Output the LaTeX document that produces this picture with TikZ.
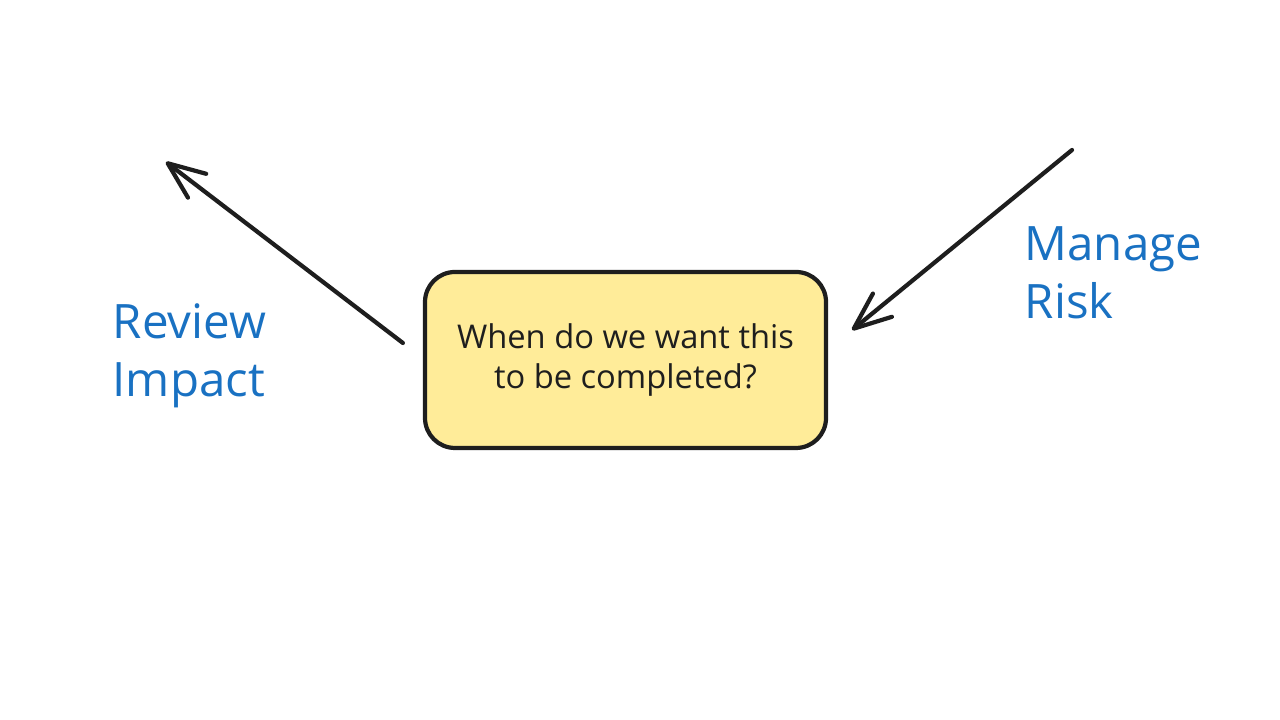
\documentclass[tikz,border=0pt]{standalone}
\usepackage{fontspec}
\setmainfont{Open Sans}
\usepackage{xcolor}
\usepackage{tikz}
\usetikzlibrary{arrows.meta}
\definecolor{ink}{HTML}{1E1E1E}
\definecolor{note}{HTML}{FFEC99}
\definecolor{penblue}{HTML}{1971C2}

\begin{document}
\begin{tikzpicture}[
  card/.style={draw=ink, fill=note, line width=1.2pt, rounded corners=0.3cm,
    minimum width=4.01cm, minimum height=1.76cm, align=center, text=ink,
    font=\fontsize{9.3}{11.4}\selectfont},
  hand/.style={text=penblue, align=left, inner sep=0pt, anchor=west,
    font=\fontsize{13.5}{16.5}\selectfont},
  arr/.style={draw=ink, line width=1.2pt, line cap=round,
    -{Straight Barb[length=0.37cm, width=0.3cm, line cap=round, line join=round]}}
]
\useasboundingbox (0,0) rectangle (12.8,7.2);

\node[card] (when) at (6.255,3.6) {When do we want this\\ to be completed?};
\node[hand] (review) at (1.12,3.64) {Review\\Impact};
\node[hand] (risk) at (10.24,4.47) {Manage\\Risk};

\coordinate (reviewtip) at (1.66,5.58);
\coordinate (riskstart) at (10.72,5.7);

\draw[arr] ([xshift=-0.2cm, yshift=0.17cm]when.west) -- (reviewtip);
\draw[arr] (riskstart) -- ([xshift=0.24cm, yshift=0.3cm]when.east);

\end{tikzpicture}
\end{document}
